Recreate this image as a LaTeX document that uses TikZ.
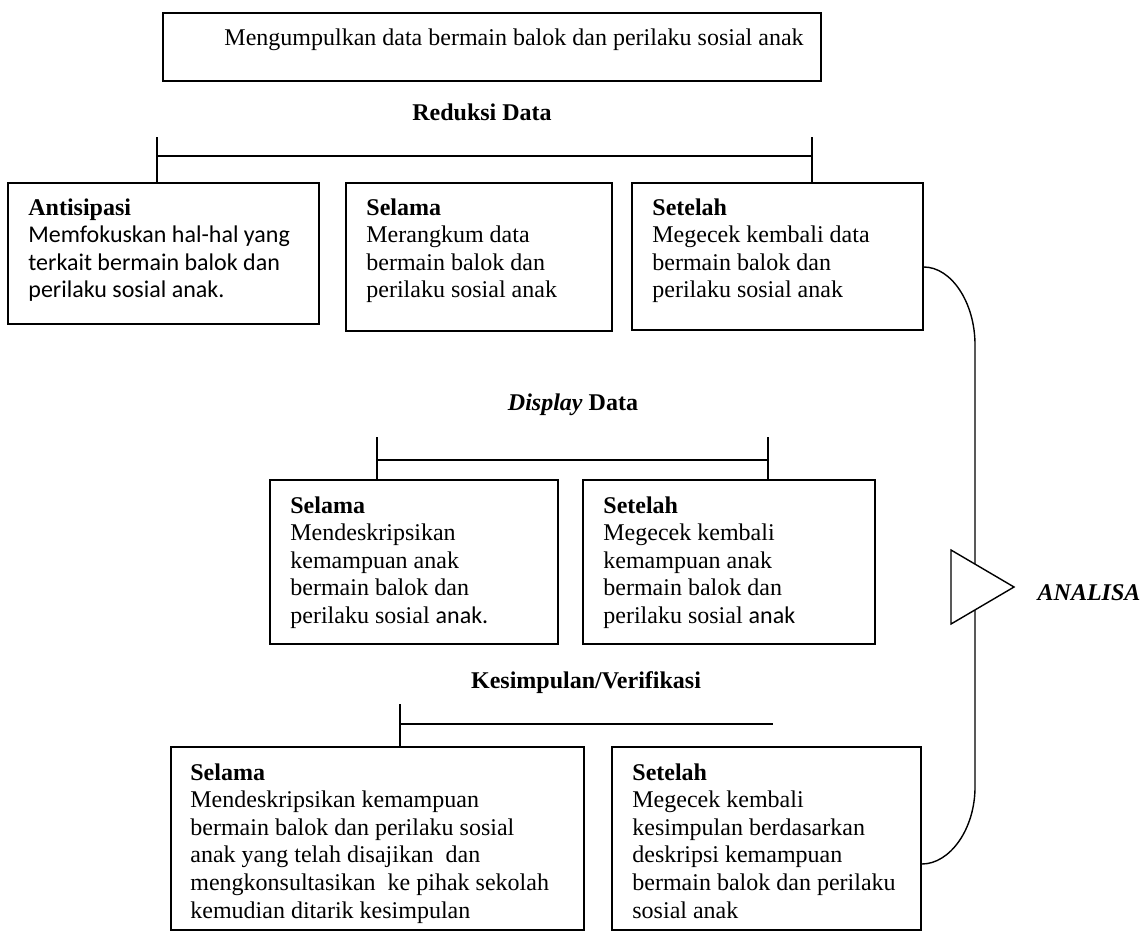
\documentclass[tikz,border=0pt]{standalone}
\usepackage{fontspec}
\setmainfont{Liberation Serif}
\newfontfamily\calibri{Carlito}
\newcommand{\ukuran}{\fontsize{12}{13.8}\selectfont}

\tikzset{
  kotak/.style={draw, line width=0.9pt, anchor=north west, inner sep=0pt},
  isi/.style={anchor=north west, align=left, inner sep=0pt, font=\ukuran},
  judul/.style={inner sep=0pt, font=\ukuran\bfseries},
  garis/.style={line width=0.7pt}
}

\begin{document}
\begin{tikzpicture}[x=0.5pt, y=-0.5pt]
  \useasboundingbox (0,0) rectangle (1144,932);

  % kotak pengumpulan data
  \node[kotak, minimum width=329pt, minimum height=34pt] (kumpul) at (162,12) {};
  \node[inner sep=0pt, font=\ukuran] (kumpul-t) at (514,40) {Mengumpulkan data bermain balok dan perilaku sosial anak};

  % reduksi data
  \node[judul] (reduksi) at (482,112) {Reduksi Data};
  \node[kotak, minimum width=155.5pt, minimum height=70.5pt] (red-a) at (7,182) {};
  \node[kotak, minimum width=133pt, minimum height=74pt] (red-b) at (345,182) {};
  \node[kotak, minimum width=145.5pt, minimum height=73.5pt] (red-c) at (631,182) {};
  \node[isi] (red-a-t) at ([shift={(21,16)}]red-a.north west)
    {\textbf{Antisipasi}\\ {\calibri Memfokuskan hal-hal yang}\\ {\calibri terkait bermain balok dan}\\ {\calibri perilaku sosial anak.}};
  \node[isi] (red-b-t) at ([shift={(21,16)}]red-b.north west)
    {\textbf{Selama}\\ Merangkum data\\ bermain balok dan\\ perilaku sosial anak};
  \node[isi] (red-c-t) at ([shift={(21,16)}]red-c.north west)
    {\textbf{Setelah}\\ Megecek kembali data\\ bermain balok dan\\ perilaku sosial anak};

  \coordinate (red-l) at (157,137);
  \coordinate (red-r) at (812,137);
  \draw[garis] (red-l) -- (red-l |- red-a.north);
  \draw[garis] (red-r) -- (red-r |- red-c.north);
  \draw[garis] (red-l |- 0,156) -- (red-r |- 0,156);

  % display data
  \node[judul] (display) at (573,405) {\textit{Display} Data};
  \node[kotak, minimum width=144pt, minimum height=82pt] (dis-a) at (269,479) {};
  \node[kotak, minimum width=146pt, minimum height=82pt] (dis-b) at (582,479) {};
  \node[isi] (dis-a-t) at ([shift={(21,17)}]dis-a.north west)
    {\textbf{Selama}\\ Mendeskripsikan\\ kemampuan anak\\ bermain balok dan\\ perilaku sosial {\calibri anak.}};
  \node[isi] (dis-b-t) at ([shift={(21,17)}]dis-b.north west)
    {\textbf{Setelah}\\ Megecek kembali\\ kemampuan anak\\ bermain balok dan\\ perilaku sosial {\calibri anak}};

  \coordinate (dis-l) at (377,437);
  \coordinate (dis-r) at (768,437);
  \draw[garis] (dis-l) -- (dis-l |- dis-a.north);
  \draw[garis] (dis-r) -- (dis-r |- dis-b.north);
  \draw[garis] (dis-l |- 0,460) -- (dis-r |- 0,460);

  % kesimpulan
  \node[judul] (kesimpulan) at (586,683) {Kesimpulan/Verifikasi};
  \node[kotak, minimum width=206.5pt, minimum height=91.5pt] (kes-a) at (170,746) {};
  \node[kotak, minimum width=154.5pt, minimum height=91.5pt] (kes-b) at (611,746) {};
  \node[isi] (kes-a-t) at ([shift={(20,17)}]kes-a.north west)
    {\textbf{Selama}\\ Mendeskripsikan kemampuan\\ bermain balok dan perilaku sosial\\ anak yang telah disajikan\ \ dan\\ mengkonsultasikan\ \ ke pihak sekolah\\ kemudian ditarik kesimpulan};
  \node[isi] (kes-b-t) at ([shift={(21,17)}]kes-b.north west)
    {\textbf{Setelah}\\ Megecek kembali\\ kesimpulan berdasarkan\\ deskripsi kemampuan\\ bermain balok dan perilaku\\ sosial anak};

  \coordinate (kes-l) at (400,704);
  \coordinate (kes-r) at (773,724);
  \draw[garis] (kes-l) -- (kes-l |- kes-a.north);
  \draw[garis] (kes-l |- kes-r) -- (kes-r);

  % analisa
  \coordinate (lengkung-a) at (975,345);
  \coordinate (lengkung-b) at (975,787);
  \draw[garis] (red-c.east |- 0,267) .. controls (951,267) and (975,302) .. (lengkung-a)
    -- (lengkung-b) .. controls (975,829) and (950,864) .. (kes-b.east |- 0,864);
  \draw[garis, fill=white] (951,550) -- (1014,587) -- (951,624) -- cycle;
  \node[judul, font=\ukuran\bfseries\itshape] (analisa) at (1089,593) {ANALISA};
\end{tikzpicture}
\end{document}
